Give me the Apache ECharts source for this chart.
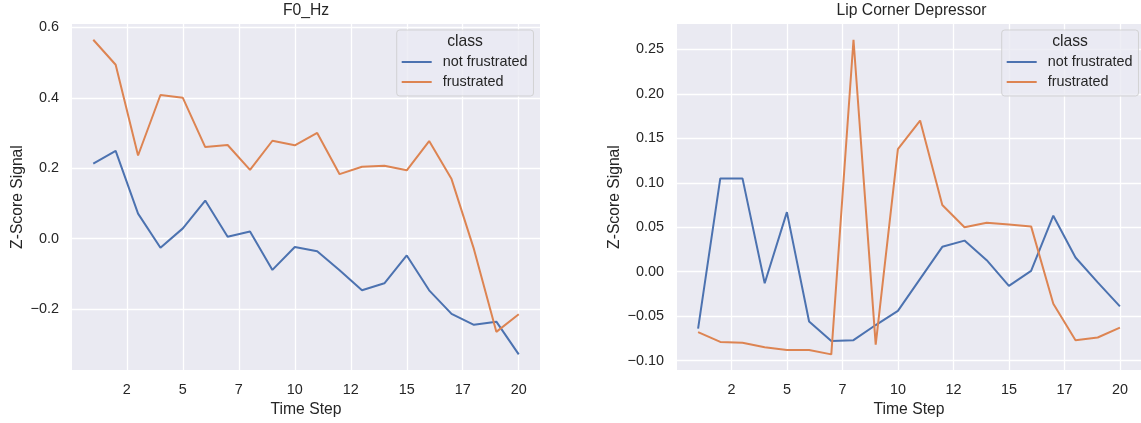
<!DOCTYPE html>
<html>
<head>
<meta charset="utf-8">
<script src="https://cdn.jsdelivr.net/npm/echarts@6/dist/echarts.min.js"></script>
<style>
  html, body { margin: 0; padding: 0; background: #ffffff; }
  #chart { width: 1141px; height: 423px; }
</style>
</head>
<body>
<div id="chart"></div>
<script>
// Time steps shared by both panels
const steps = [1, 2, 3, 4, 5, 6, 7, 8, 9, 10, 11, 12, 13, 14, 15, 16, 17, 18, 19, 20];

// Mean z-scored F0 (Hz) per time step
const f0NotFrustrated = [0.213, 0.249, 0.071, -0.026, 0.029, 0.108, 0.005, 0.020, -0.089, -0.024,
                         -0.036, -0.090, -0.147, -0.127, -0.048, -0.147, -0.214, -0.245, -0.236, -0.329];
const f0Frustrated    = [0.565, 0.494, 0.236, 0.408, 0.400, 0.260, 0.266, 0.195, 0.278, 0.265,
                         0.300, 0.183, 0.204, 0.207, 0.194, 0.277, 0.169, -0.030, -0.265, -0.215];

// Mean z-scored lip corner depressor activation per time step
const lipNotFrustrated = [-0.064, 0.105, 0.105, -0.013, 0.067, -0.056, -0.078, -0.077, -0.060, -0.044,
                          -0.008, 0.028, 0.035, 0.013, -0.016, 0.001, 0.063, 0.016, -0.012, -0.039];
const lipFrustrated    = [-0.068, -0.079, -0.080, -0.085, -0.088, -0.088, -0.093, 0.261, -0.082, 0.138,
                          0.170, 0.075, 0.050, 0.055, 0.053, 0.051, -0.036, -0.077, -0.074, -0.063];

const classNames = ['not frustrated', 'frustrated'];
const panelTitles = ['F0_Hz', 'Lip Corner Depressor'];
const xTickStep = 2.5;
const yTickSteps = [0.2, 0.05];
const yTickDecimals = [1, 2];
const xAxisName = 'Time Step';
const yAxisName = 'Z-Score Signal';
const legendTitle = 'class';

const FONT = '"Liberation Sans", Arial, Helvetica, sans-serif';
const TEXT = '#262626';
const COLORS = ['#4C72B0', '#DD8452'];
const PLOT_BG = '#EAEAF2';

// 5% padding around the data, like matplotlib's default margins
function paddedRange(values) {
  const lo = Math.min(...values), hi = Math.max(...values);
  const m = (hi - lo) * 0.05;
  return [lo - m, hi + m];
}
const xRange = paddedRange(steps);

function fmtY(decimals) {
  return function (v) {
    if (Math.abs(v) < 1e-9) v = 0;
    return v.toFixed(decimals).replace('-', '\u2212');
  };
}

const panels = [
  { left: 72,  width: 468, data: [f0NotFrustrated, f0Frustrated],   yName: 46 },
  { left: 677, width: 469, data: [lipNotFrustrated, lipFrustrated], yName: 54 }
];

const grid = [], xAxis = [], yAxis = [], series = [], title = [], legend = [], graphic = [];

panels.forEach(function (p, i) {
  const yRange = paddedRange(p.data[0].concat(p.data[1]));
  const cx = p.left + p.width / 2;

  grid.push({
    left: p.left, top: 24, width: p.width, height: 348,
    show: true, backgroundColor: PLOT_BG, borderWidth: 0, containLabel: false
  });

  xAxis.push({
    gridIndex: i, type: 'value',
    min: xRange[0], max: xRange[1],
    minInterval: xTickStep, maxInterval: xTickStep, splitNumber: 8,
    axisLine: { show: false }, axisTick: { show: false },
    axisLabel: {
      showMinLabel: false, showMaxLabel: false,
      formatter: function (v) { return String(Math.floor(v)); },
      color: TEXT, fontSize: 14.4, fontFamily: FONT, margin: 13
    },
    splitLine: { show: true, showMinLine: false, showMaxLine: false, lineStyle: { color: '#ffffff', width: 1.3 } },
    name: xAxisName, nameLocation: 'middle', nameGap: 31,
    nameTextStyle: { color: TEXT, fontSize: 15.7, fontFamily: FONT }
  });

  yAxis.push({
    gridIndex: i, type: 'value',
    min: yRange[0], max: yRange[1],
    minInterval: yTickSteps[i], maxInterval: yTickSteps[i], splitNumber: 6,
    axisLine: { show: false }, axisTick: { show: false },
    axisLabel: {
      showMinLabel: false, showMaxLabel: false,
      formatter: fmtY(yTickDecimals[i]),
      color: TEXT, fontSize: 14.4, fontFamily: FONT, margin: 13
    },
    splitLine: { show: true, showMinLine: false, showMaxLine: false, lineStyle: { color: '#ffffff', width: 1.3 } },
    name: yAxisName, nameLocation: 'middle', nameGap: p.yName,
    nameTextStyle: { color: TEXT, fontSize: 15.7, fontFamily: FONT }
  });

  p.data.forEach(function (vals, k) {
    series.push({
      name: classNames[k], type: 'line',
      xAxisIndex: i, yAxisIndex: i,
      data: steps.map(function (s, j) { return [s, vals[j]]; }),
      showSymbol: false, symbol: 'none',
      lineStyle: { color: COLORS[k], width: 2 },
      itemStyle: { color: COLORS[k] },
      emphasis: { disabled: true }, z: 3
    });
  });

  title.push({
    text: panelTitles[i], left: cx, top: 3, textAlign: 'center', padding: 0,
    textStyle: { color: TEXT, fontSize: 15.7, fontWeight: 'normal', fontFamily: FONT }
  });

  const boxLeft = p.left + p.width - 143.3 - (i === 1 ? 1 : 0);
  legend.push({
    left: boxLeft, top: 30, orient: 'vertical',
    icon: 'rect', itemWidth: 30, itemHeight: 2, itemGap: 6,
    padding: [25, 6, 7, 5],
    backgroundColor: 'rgba(234,234,242,0.8)', borderColor: 'rgba(204,204,204,0.8)',
    borderWidth: 1, borderRadius: 3,
    selectedMode: false,
    textStyle: { color: TEXT, fontSize: 14.4, fontFamily: FONT, padding: [0, 0, 0, 6] },
    data: classNames
  });

  graphic.push({
    type: 'text', z: 100,
    style: {
      text: legendTitle, x: boxLeft + 68.3, y: 42,
      textAlign: 'center', textVerticalAlign: 'middle',
      fill: TEXT, fontSize: 15.7, fontFamily: FONT
    }
  });
});

const chart = echarts.init(document.getElementById('chart'), null, { renderer: 'canvas' });
chart.setOption({
  animation: false,
  backgroundColor: '#ffffff',
  textStyle: { fontFamily: FONT },
  title: title, grid: grid, xAxis: xAxis, yAxis: yAxis,
  legend: legend, series: series, graphic: graphic
});
</script>
</body>
</html>
